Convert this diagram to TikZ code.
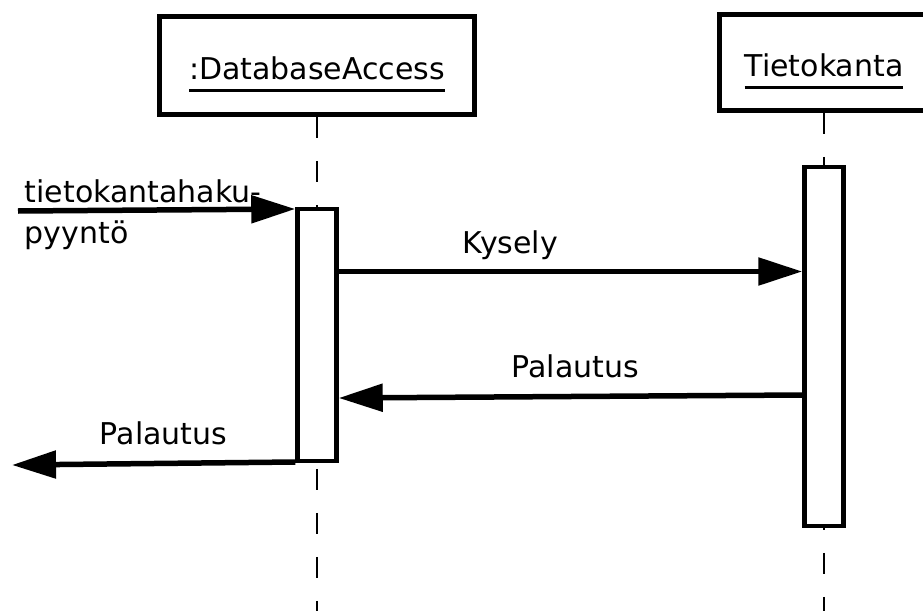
\documentclass[tikz,border=0pt]{standalone}
\usepackage{fontspec}
\setmainfont{DejaVu Sans}
\usetikzlibrary{positioning, arrows.meta}
\newcommand{\objname}[1]{\vtop{\hbox{#1}\kern10pt\hrule height3pt}}
\tikzset{
    object/.style = {
        draw, line width=4.5pt, inner sep=0pt,
        text height=40pt, text depth=13pt
    },
    activation/.style = {
        draw, fill=white, line width=4.5pt, minimum width=39pt
    },
    lifeline/.style = {
        line width=2pt, dash pattern=on 21pt off 23pt
    },
    msg/.style = {
        line width=5.5pt, -{Triangle[length=44pt, width=27pt]}
    },
    msglabel/.style = {anchor=base, inner sep=0pt, yshift=18.5pt}
}

\begin{document}
\begin{tikzpicture}[x=1pt, y=-1pt, font=\fontsize{30}{41}\selectfont]
    \clip (0,0) rectangle (923,610);
    \node [object, minimum width=315pt, minimum height=98pt] (dbAccess) at (317,65.5) {\objname{:DatabaseAccess}};
    \node [object, minimum width=209pt, minimum height=96pt] (tietokanta) at (824,62.5) {\objname{Tietokanta}};
    \draw [lifeline] (dbAccess.south) -- (dbAccess.south |- 0,615);
    \draw [lifeline] (tietokanta.south) -- (tietokanta.south |- 0,615);
    \node [activation, minimum height=252pt, below=90pt of dbAccess] (dbAct) {};
    \node [activation, minimum height=359pt, below=52pt of tietokanta] (tkAct) {};
    \coordinate (reqStart) at (18,211);
    \coordinate (replyEnd) at (12,465);
    \draw [msg] (reqStart) -- (dbAct.west |- 0,209)
        node [pos=0, anchor=base west, inner sep=0pt, xshift=4pt, yshift=-32pt, align=left] (reqLabel) {tietokantahaku-\\pyyntö};
    \draw [msg] (dbAct.east |- 0,271.5) -- (tkAct.west |- 0,271.5)
        node [msglabel, pos=.37] (queryLabel) {Kysely};
    \draw [msg] (tkAct.west |- 0,395) -- (dbAct.east |- 0,398)
        node [msglabel, pos=.49] (resultLabel) {Palautus};
    \draw [msg] (dbAct.west |- 0,462) -- (replyEnd)
        node [msglabel, pos=.465] (replyLabel) {Palautus};
\end{tikzpicture}
\end{document}
